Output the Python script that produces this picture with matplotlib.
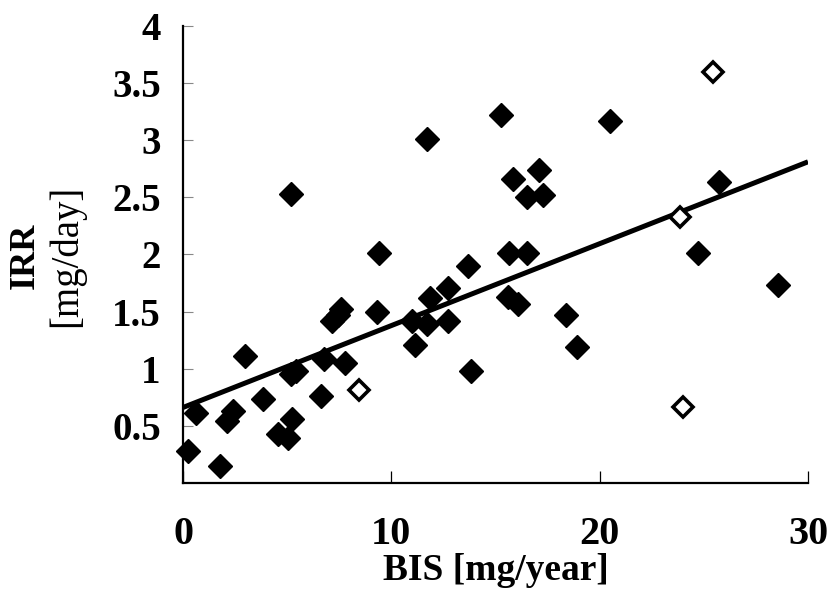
import matplotlib.pyplot as plt
import numpy as np

plt.rcParams['font.family'] = ['Liberation Serif', 'DejaVu Serif']

# filled diamonds
bis = [0.24, 0.62, 1.78, 2.11, 2.4, 2.98, 3.84, 4.56, 5.04, 5.23, 5.18, 5.42, 5.18,
       6.62, 6.77, 7.15, 7.44, 7.58, 7.78, 9.31, 9.4,
       10.98, 11.13, 11.7, 11.86, 11.7, 12.7, 12.72, 13.68, 13.8,
       15.26, 15.6, 15.65, 15.84, 16.1, 16.5, 16.5, 17.09, 17.28,
       18.4, 18.9, 20.5, 24.72, 25.73, 28.56]
irr = [0.28, 0.61, 0.15, 0.54, 0.63, 1.11, 0.73, 0.43, 0.39, 0.56, 0.95, 0.98, 2.53,
       0.76, 1.08, 1.42, 1.47, 1.52, 1.05, 1.5, 2.01,
       1.42, 1.21, 1.39, 1.62, 3.01, 1.42, 1.71, 1.9, 0.98,
       3.22, 1.63, 2.01, 2.66, 1.57, 2.5, 2.01, 2.74, 2.52,
       1.47, 1.19, 3.17, 2.01, 2.63, 1.73]

# open diamonds
bis_open = [8.45, 23.86, 24.0, 25.44]
irr_open = [0.81, 2.33, 0.66, 3.6]

# regression line
intercept = 0.66
slope = 0.0717

fig = plt.figure(figsize=(8.3, 5.91), dpi=100)
ax = fig.add_axes([0.2205, 0.183, 0.753, 0.773])

xs = np.array([0, 30])
ax.plot(xs, intercept + slope * xs, color='black', lw=3.6, solid_capstyle='butt', zorder=2)
ax.plot(bis, irr, 'D', color='black', ms=11.8, clip_on=False, zorder=3)
ax.plot(bis_open, irr_open, 'D', mfc='white', mec='black', mew=2.6, ms=10, clip_on=False, zorder=3)

ax.set_xlim(0, 30)
ax.set_ylim(0, 4)
ax.set_xticks([0, 10, 20, 30])
ax.set_yticks([0.5, 1, 1.5, 2, 2.5, 3, 3.5, 4])
ax.set_yticklabels(['0.5', '1', '1.5', '2', '2.5', '3', '3.5', '4'])

for s in ['top', 'right']:
    ax.spines[s].set_visible(False)
for s in ['left', 'bottom']:
    ax.spines[s].set_linewidth(1.6)
    ax.spines[s].set_color('black')

ax.tick_params(axis='y', direction='in', length=7, width=0.8, color='#888888', pad=16)
ax.tick_params(axis='x', direction='in', length=9, width=0.9, color='black', pad=24)
for lab in ax.get_yticklabels():
    lab.set_fontsize(28)
    lab.set_fontweight('bold')
for lab in ax.get_xticklabels():
    lab.set_fontsize(29)
    lab.set_fontweight('bold')

ax.set_xlabel('BIS [mg/year]', fontsize=27, fontweight='bold', labelpad=0)
fig.text(0.030, 0.567, 'IRR', rotation=90, fontsize=26, fontweight='bold', ha='center', va='center')
fig.text(0.080, 0.567, '[mg/day]', rotation=90, fontsize=28, ha='center', va='center')

fig.savefig('out.png', dpi=100)
